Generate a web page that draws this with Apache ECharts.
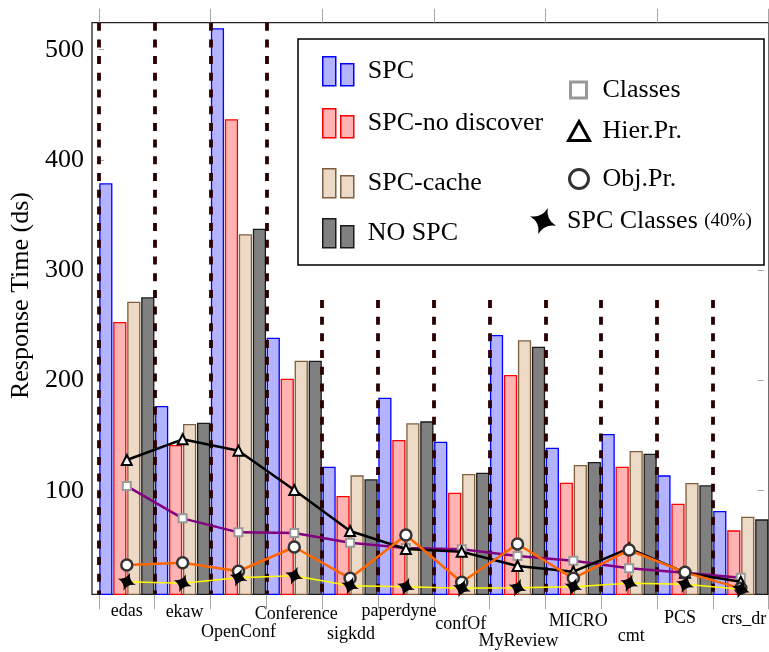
<!DOCTYPE html>
<html><head><meta charset="utf-8">
<script src="https://cdn.jsdelivr.net/npm/echarts@6/dist/echarts.min.js"></script>
<style>html,body{margin:0;padding:0;background:#fff}#c{width:769px;height:652px}</style>
</head><body><div id="c"></div>
<script>
// ---------- data ----------
const categories = ['edas','ekaw','OpenConf','Conference','sigkdd','paperdyne','confOf','MyReview','MICRO','cmt','PCS','crs_dr'];
const spc        = [378.8,176.8,519.5,238.8,121.7,184.3,144.4,241.2,139.0,151.4,113.9,81.6];
const spcNoDisc  = [253.0,141.4,436.9,201.6, 95.2,146.0, 98.2,204.9,107.2,121.7, 88.2,64.0];
const spcCache   = [271.4,160.5,332.6,217.9,113.9,161.1,115.1,236.4,123.3,136.0,107.0,76.4];
const noSpc      = [275.4,161.7,337.7,217.9,110.3,162.9,116.3,230.6,126.0,133.5,104.9,74.0];
const classes    = [104.2, 74.9, 62.2, 61.6, 52.8, 48.0, 46.8, 40.7, 36.5, 29.6, 25.6, 21.0];
const hierPr     = [127.8,146.6,136.3,100.6, 63.4, 47.1, 44.6, 31.7, 26.5, 47.7, 25.6, 17.4];
const objPr      = [ 32.6, 34.7, 26.9, 48.9, 20.5, 59.8, 16.9, 51.6, 20.5, 46.2, 25.9, 11.4];
const spcClasses = [ 17.4, 16.0, 21.0, 22.9, 13.8, 12.9, 11.4, 12.0, 12.9, 16.0, 15.1, 10.5];
const yTicks = [100,200,300,400,500];
const yMin = 6, yMax = 524.5;
// group separators: top value of each dashed separator (at group boundaries 0..11)
const separatorTops = [524.5,524.5,524.5,524.5,273,273,273,273,273,273,273,273];

// ---------- layout / style helpers ----------
const FONT = 'Liberation Serif';
const labelPadTop = [0,1,21,3,23,0,13,30,10,25,7,8];
const labelShift  = [0,2,0,2,1,-7,-1,1,5,2,-5,3];
const rich = {};
categories.forEach((c,i)=>{
  const s = labelShift[i];
  rich['c'+i] = {fontFamily:FONT,fontSize:18,color:'#000',
    padding:[labelPadTop[i], s<0?-2*s:0, 0, s>0?2*s:0]};
});
function starPath(deg){
  // four-pointed star with concave (curved) sides
  const P=(r,a)=>{const t=(a+deg)*Math.PI/180;return (r*Math.cos(t)).toFixed(2)+','+(r*Math.sin(t)).toFixed(2);};
  let d='M'+P(10,0);
  for(let k=0;k<4;k++){
    d+=' Q'+P(2.2,k*90+45)+' '+P(10,(k+1)*90);
  }
  return 'path://'+d+' Z';
}
const STAR = starPath(20);
const BAR_ICON = 'path://M0,0 H13 V29 H0 Z M18,7 H31 V29 H18 Z';

const barDefs = [
  {name:'SPC', data:spc, fill:'#b3b3ff', stroke:'#0000ff'},
  {name:'SPC-no discover', data:spcNoDisc, fill:'#ffb3b3', stroke:'#ff0000'},
  {name:'SPC-cache', data:spcCache, fill:'#ecd9c6', stroke:'#7f5f3f'},
  {name:'NO SPC', data:noSpc, fill:'#808080', stroke:'#1a1a1a'}
];
const barLegendTop = [56,108,168,218];

const lineDefs = [
  {name:'Classes', data:classes, line:'#800080', lw:2.5, symbol:'rect', size:8, fill:'#fff', border:'#999999', bw:2, z:5},
  {name:'Hier.Pr.', data:hierPr, line:'#000000', lw:2.5, symbol:'triangle', size:10, fill:'#fff', border:'#000', bw:2, z:6},
  {name:'Obj.Pr.', data:objPr, line:'#ff6600', lw:2.5, symbol:'circle', size:11, fill:'#fff', border:'#333', bw:2.5, z:7},
  {name:'SPC Classes (40%)', data:spcClasses, line:'#ffff00', lw:1.5, symbol:STAR, size:18, fill:'#000', border:'#000', bw:0, z:8}
];
const lineLegend = [
  {left:569, top:77, w:16, h:16, icon:'rect', bw:3, pad:11},
  {left:567, top:118, w:21, h:19, icon:'triangle', bw:3, pad:8},
  {left:568, top:166, w:19, h:19, icon:'circle', bw:3, pad:9},
  {left:530, top:208, w:28, h:26, icon:STAR, bw:0, pad:5}
];

const series = [];
barDefs.forEach(b=>{
  series.push({type:'bar', name:b.name, data:b.data, xAxisIndex:0, yAxisIndex:0,
    barWidth:13.2, barGap:'6%', z:2,
    itemStyle:{color:b.fill, borderColor:b.stroke, borderWidth:1.3}});
});
series.push({type:'line', name:'sep', data:[], xAxisIndex:2, yAxisIndex:0, z:3, silent:true,
  markLine:{symbol:['none','none'], silent:true, animation:false, label:{show:false},
    lineStyle:{color:'#2a0000', width:3.8, type:[8,8.7], cap:'butt'},
    emphasis:{disabled:true},
    data: separatorTops.map((t,i)=>[{coord:[i,t]},{coord:[i,yMin]}])}});
lineDefs.forEach(l=>{
  series.push({type:'line', name:l.name, data:l.data, xAxisIndex:0, yAxisIndex:0, z:l.z,
    symbol:l.symbol, symbolSize:l.size, showAllSymbol:true,
    lineStyle:{color:l.line, width:l.lw},
    itemStyle:{color:l.fill, borderColor:l.border, borderWidth:l.bw}});
});

const legends = [];
barDefs.forEach((b,i)=>{
  legends.push({data:[b.name], left:322, top:barLegendTop[i], padding:0, z:10,
    itemWidth:31, itemHeight:29, icon:BAR_ICON, selectedMode:false,
    itemStyle:{color:b.fill, borderColor:b.stroke, borderWidth:1.5},
    textStyle:{fontFamily:FONT, fontSize:26, color:'#000', padding:[0,0,0,9]}});
});
lineDefs.forEach((l,i)=>{
  const g = lineLegend[i];
  legends.push({data:[l.name], left:g.left, top:g.top, padding:0, z:10,
    itemWidth:g.w, itemHeight:g.h, icon:g.icon, selectedMode:false,
    itemStyle:{color:l.fill, borderColor:(i===0?'#999999':l.border), borderWidth:g.bw},
    formatter: i===3 ? '{a|SPC Classes} {b|(40%)}' : '{name}',
    textStyle:{fontFamily:FONT, fontSize:26, color:'#000', padding:[0,0,0,g.pad],
      rich:{a:{fontFamily:FONT,fontSize:26,color:'#000'}, b:{fontFamily:FONT,fontSize:19,color:'#000'}}}});
});

const tickGray = '#a6a6a6';
const option = {
  animation:false,
  backgroundColor:'#fff',
  grid:[
    {left:92, right:-1, top:22.7, bottom:57.7, show:true, borderColor:'#222', borderWidth:1.3, backgroundColor:'transparent'},
    {left:98, right:-5.4, top:22.7, bottom:57.7}
  ],
  xAxis:[
    {type:'category', gridIndex:1, position:'bottom', data:categories,
      axisLine:{show:false},
      axisTick:{show:true, inside:false, length:15, lineStyle:{color:tickGray, width:1}},
      axisLabel:{interval:0, margin:8, hideOverlap:false,
        formatter:(v,i)=>'{c'+i+'|'+v+'}', rich:rich},
      splitLine:{show:false}},
    {type:'category', gridIndex:1, position:'top', data:categories,
      axisLine:{show:false},
      axisTick:{show:true, inside:false, length:14, lineStyle:{color:tickGray, width:1}},
      axisLabel:{show:false}, splitLine:{show:false}},
    {type:'value', gridIndex:1, min:0, max:categories.length, show:false},
    {type:'value', gridIndex:0, show:false}
  ],
  yAxis:[
    {type:'value', gridIndex:1, min:yMin, max:yMax, position:'left', offset:6,
      axisLine:{show:false},
      axisTick:{show:true, inside:true, length:5, customValues:yTicks, lineStyle:{color:tickGray}},
      axisLabel:{customValues:yTicks, margin:9, fontFamily:FONT, fontSize:26, color:'#000'},
      splitLine:{show:false},
      name:'Response Time (ds)', nameLocation:'middle', nameGap:57,
      nameTextStyle:{fontFamily:FONT, fontSize:26, color:'#000', padding:[0,0,0,26]}},
    {type:'value', gridIndex:1, min:yMin, max:yMax, position:'right', offset:-5,
      axisLine:{show:false},
      axisTick:{show:true, inside:true, length:6, customValues:yTicks, lineStyle:{color:tickGray}},
      axisLabel:{show:false}, splitLine:{show:false}},
    {type:'value', gridIndex:0, show:false}
  ],
  legend:legends,
  graphic:[
    {type:'rect', z:1, shape:{x:298, y:39, width:466, height:226},
      style:{fill:'#fff', stroke:'#000', lineWidth:1.5}}
  ],
  series:series
};
const chart = echarts.init(document.getElementById('c'), null, {renderer:'canvas'});
chart.setOption(option);
</script>
</body></html>
